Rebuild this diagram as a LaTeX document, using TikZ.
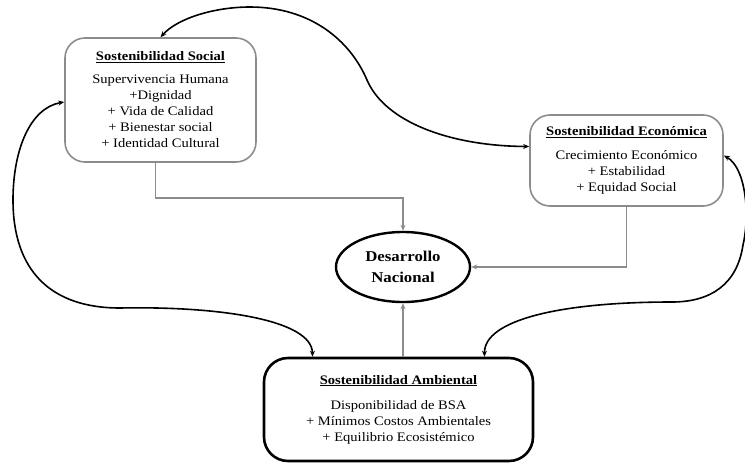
\documentclass[tikz,border=0pt]{standalone}
\usepackage{fontspec}
\setmainfont[FakeStretch=1.12]{Liberation Serif}
\usetikzlibrary{arrows.meta,calc,shapes.geometric}
\begin{document}
\begin{tikzpicture}[x=1pt,y=-1pt,
  txt/.style={font=\fontsize{13}{16}\selectfont, align=center, inner sep=0pt},
  softbox/.style={txt, draw=black!45, line width=1.6pt, rounded corners=20pt},
  hardbox/.style={txt, draw=black, line width=2.6pt, rounded corners=24pt},
  core/.style={ellipse, draw=black, line width=2.4pt, inner sep=0pt,
    font=\fontsize{15}{21}\selectfont\bfseries, align=center},
  feed/.style={draw=black!45, line width=1.4pt, -{Stealth[length=6pt,width=5pt]}},
  loop/.style={draw=black, line width=1.6pt, {Stealth[length=6pt,width=5pt]}-{Stealth[length=6pt,width=5pt]}}
]
\useasboundingbox (0,0) rectangle (745,464);

\node[softbox, minimum width=191pt, minimum height=124pt] (soc) at (160.5,100)
  {\textbf{\underline{Sostenibilidad Social}}\\[7pt]
   Supervivencia Humana\\ +Dignidad\\ + Vida de Calidad\\ + Bienestar social\\ + Identidad Cultural};

\node[softbox, minimum width=193pt, minimum height=91pt] (eco) at (626.5,160.5)
  {\textbf{\underline{Sostenibilidad Económica}}\\[8pt]
   Crecimiento Económico\\ + Estabilidad\\ + Equidad Social};

\node[hardbox, minimum width=269pt, minimum height=103pt] (amb) at (398.5,409.5)
  {\textbf{\underline{Sostenibilidad Ambiental}}\\[9pt]
   Disponibilidad de BSA\\ + Mínimos Costos Ambientales\\ + Equilibrio Ecosistémico};

\node[core, minimum width=134pt, minimum height=70pt] (nac) at (403,267)
  {Desarrollo\\Nacional};

% grey feeds into the core
\draw[feed] ($(soc.south)+(-5,0)$) -- ++(0,35) -| (nac.north);
\draw[feed] (eco.south) |- (nac.east);
\draw[feed] (nac.south |- amb.north) -- (nac.south);

% black loops
\coordinate (sa) at (250,7);
\coordinate (sb) at (367,80);
\draw[loop] (soc.north) .. controls (178,18) and (215,7) .. (sa)
  .. controls (310,7) and (350,40) .. (sb)
  .. controls (385,122) and (450,146) .. ($(eco.west)+(0,-14)$);

\coordinate (la) at (13,200);
\coordinate (lb) at (120,308);
\draw[loop] ($(soc.west)+(0,2)$) .. controls (30,108) and (13,150) .. (la)
  .. controls (13,270) and (50,308) .. (lb)
  .. controls (220,306) and (312,320) .. ($(amb.north)+(-86,0)$);

\coordinate (ra) at (743,245);
\coordinate (rb) at (672,302);
\draw[loop] ($(eco.east)+(0,-5)$) .. controls (746,168) and (750,215) .. (ra)
  .. controls (737,285) and (710,302) .. (rb)
  .. controls (560,302) and (484,320) .. ($(amb.north)+(86,0)$);
\end{tikzpicture}
\end{document}
